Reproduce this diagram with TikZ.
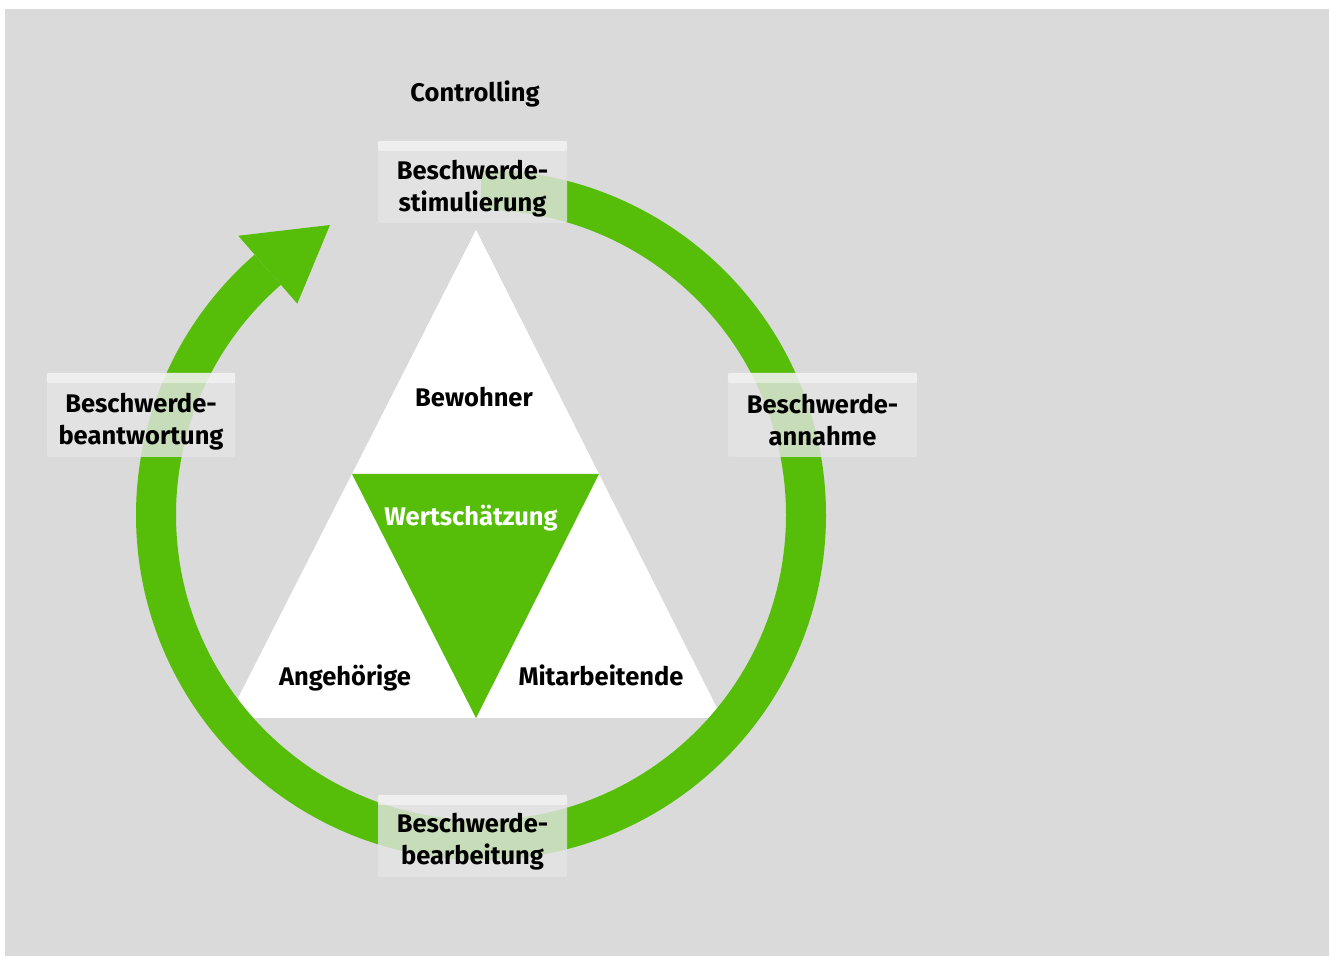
\documentclass[tikz,border=0pt]{standalone}
\usepackage{fontspec}
\setmainfont{Fira Sans}
\usetikzlibrary{calc}
\begin{document}
\begin{tikzpicture}[x=1pt,y=1pt,
  lbl/.style={font=\fontsize{25.5}{32}\selectfont\bfseries, align=center, inner sep=0pt},
  stepbox/.style={fill=boxgray, fill opacity=0.8, minimum width=189pt, minimum height=82pt, rounded corners=2pt, inner sep=0pt}]
\definecolor{bg}{HTML}{DADADA}
\definecolor{grn}{HTML}{56BD08}
\definecolor{boxgray}{HTML}{E4E4E4}
\useasboundingbox (0,0) rectangle (1331,958);
\fill[bg] (5,2) rectangle (1329,949);
\coordinate (c) at (481,443);
% triangles
\fill[white] (476,728) coordinate (apex) -- (722,240) coordinate (br) -- (228,240) coordinate (bl) -- cycle;
\fill[grn] (352,484) coordinate (ml) -- (599,484) coordinate (mr) -- (476,240) coordinate (mb) -- cycle;
% ring
\draw[grn, line width=40pt] (c) ++(90:325) arc[start angle=90, end angle=-229, radius=325];
\fill[grn] ($(c)+(131:370)$) coordinate (h1) -- (330,733) coordinate (tip) -- ($(c)+(131:280)$) coordinate (h2) -- cycle;
\node[lbl] (ctrl) at (475,864) {Controlling};
\node[lbl] (bew) at (474,561) {Bewohner};
\node[lbl, text=white] (wert) at (471,440) {Wertschätzung};
\node[lbl] (ang) at (345,280) {Angehörige};
\node[lbl] (mit) at (601,283) {Mitarbeitende};
% boxes
\node[stepbox] (stim) at (472.5,776) {};
\node[stepbox, minimum width=188pt, minimum height=84pt] (antw) at (141,543) {};
\node[stepbox, minimum height=84pt] (annahme) at (822.5,543) {};
\node[stepbox] (bearb) at (472.5,122) {};
\foreach \b in {stim,antw,annahme,bearb}{
  \fill[white, opacity=0.45, rounded corners=2pt] (\b.north west) rectangle ([yshift=-10pt]\b.north east);
}
\node[lbl] (stimt) at ([yshift=-7pt]stim.center) {Beschwerde-\\stimulierung};
\node[lbl] (antwt) at ([yshift=-7pt]antw.center) {Beschwerde-\\beantwortung};
\node[lbl] (annahmet) at ([yshift=-5pt]annahme.center) {Beschwerde-\\annahme};
\node[lbl] (bearbt) at ([yshift=-6pt]bearb.center) {Beschwerde-\\bearbeitung};
\end{tikzpicture}
\end{document}
